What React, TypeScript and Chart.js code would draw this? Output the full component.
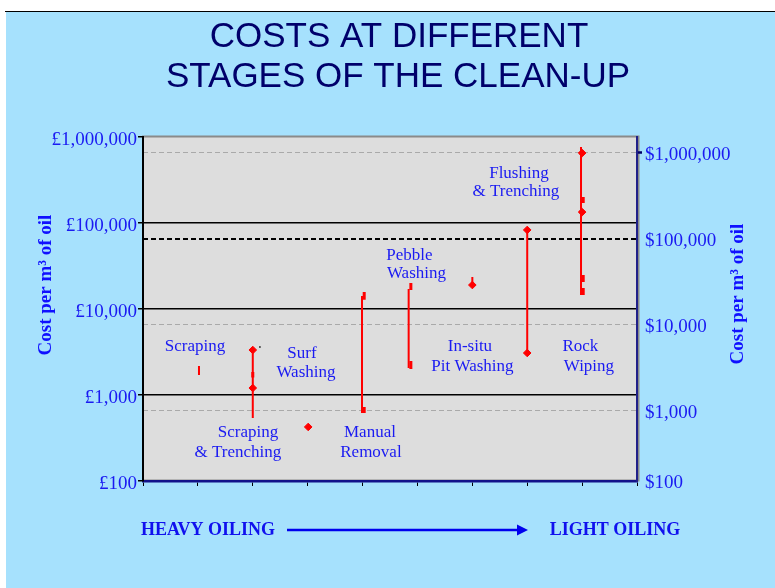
import { useEffect, useRef } from 'react';
import { Chart, registerables } from 'chart.js';

Chart.register(...registerables);

// ---- data ----
const stageNames = [
  'Scraping', 'Scraping & Trenching', 'Surf Washing', 'Manual Removal',
  'Pebble Washing', 'In-situ Pit Washing', 'Flushing & Trenching', 'Rock Wiping',
];
const stagePos = [1.02, 2, 3.01, 3.99, 4.84, 6, 7, 7.98];
const costLow = [1710, 540, 425, 618, 2060, 19000, 3080, 14550];
const costHigh = [2175, 3335, 425, 14160, 17100, 23550, 83000, 766000];

const diamondPos = [2, 2, 3.01, 6, 7, 7, 8, 8];
const diamondCost = [3335, 1206, 425, 19000, 83000, 3080, 651000, 134000];

const dashPos = [2, 4.03, 4.03, 4.88, 4.88, 8.02, 8.02, 8.02];
const dashLow = [1600, 12800, 618, 16650, 2005, 171000, 20600, 14550];
const dashHigh = [1850, 15800, 724, 20050, 2485, 200000, 24850, 17550];

const dotPos = [2.13];
const dotCost = [3614];

const noteText = [
  'Scraping', 'Scraping', '& Trenching', 'Surf', 'Washing', 'Manual', 'Removal',
  'Pebble', 'Washing', 'In-situ', 'Pit Washing', 'Flushing', '& Trenching', 'Rock', 'Wiping',
];
const notePos = [0.947, 1.913, 1.73, 2.896, 2.969, 4.135, 4.153, 4.854, 4.982, 5.956, 6.002, 6.849, 6.794, 7.969, 8.124];
const noteCost = [3614, 371, 217, 3076, 1803, 371, 217, 41330, 25530, 3614, 2116, 381000, 229300, 3614, 2116];

const xTickValues = [0, 1, 2, 3, 4, 5, 6, 7, 8, 9];
const leftTickValues = [100, 1000, 10000, 100000, 1000000];
const leftTickLabels = ['£100', '£1,000', '£10,000', '£100,000', '£1,000,000'];
const dollarRate = 1.53;
const rightTickValues = [153, 1000, 10000, 100000, 1000000];
const rightTickLabels = ['$100', '$1,000', '$10,000', '$100,000', '$1,000,000'];

const titleLines = ['COSTS AT DIFFERENT', 'STAGES OF THE CLEAN-UP'];
const axisTitle = 'Cost per m³ of oil';
const heavyLabel = 'HEAVY OILING';
const lightLabel = 'LIGHT OILING';

const SERIF = "'Liberation Serif', 'Times New Roman', serif";
const SANS = "'Liberation Sans', Arial, sans-serif";
const BLUE_TEXT = '#1a1af2';
const RED = '#ff0000';

function segments(pos: number[], lo: number[], hi: number[]) {
  const out: { x: number; y: number | null }[] = [];
  pos.forEach((p, i) => {
    out.push({ x: p, y: lo[i] }, { x: p, y: hi[i] }, { x: p, y: null });
  });
  return out;
}

const decorPlugin = {
  id: 'decor',
  beforeDraw(chart: any) {
    const { ctx, chartArea: a } = chart;
    ctx.save();
    ctx.fillStyle = '#ffffff';
    ctx.fillRect(0, 0, chart.width, chart.height);
    ctx.fillStyle = '#a6e1fd';
    ctx.fillRect(6, 12, chart.width - 6, chart.height - 12);
    ctx.strokeStyle = '#000000';
    ctx.lineWidth = 1;
    ctx.beginPath();
    ctx.moveTo(5, 11.5);
    ctx.lineTo(chart.width, 11.5);
    ctx.stroke();
    // plot area
    ctx.fillStyle = '#dddddd';
    ctx.fillRect(a.left, a.top, a.right - a.left, a.bottom - a.top);
    ctx.strokeStyle = '#8a8a8a';
    ctx.lineWidth = 2;
    ctx.strokeRect(a.left, a.top - 0.5, a.right - a.left + 1.5, a.bottom - a.top);
    ctx.restore();
  },
  afterDraw(chart: any) {
    const { ctx, chartArea: a, scales } = chart;
    ctx.save();
    // title
    ctx.fillStyle = '#00006b';
    ctx.font = `35px ${SANS}`;
    ctx.textAlign = 'center';
    ctx.textBaseline = 'alphabetic';
    ctx.fillText(titleLines[0], 399, 47);
    ctx.fillText(titleLines[1], 398, 87);

    // annotations
    ctx.fillStyle = BLUE_TEXT;
    ctx.font = `17px ${SERIF}`;
    ctx.textBaseline = 'middle';
    noteText.forEach((t, i) => {
      const x = scales.x.getPixelForValue(notePos[i]);
      const y = scales.y.getPixelForValue(noteCost[i]);
      ctx.fillText(t, x, y);
    });

    // axis titles
    ctx.fillStyle = '#1010ff';
    ctx.font = `bold 19px ${SERIF}`;
    const midY = (a.top + a.bottom) / 2;
    ctx.save();
    ctx.translate(46, midY - 24);
    ctx.rotate(-Math.PI / 2);
    ctx.fillText(axisTitle, 0, 0);
    ctx.restore();
    ctx.save();
    ctx.translate(738, midY - 15);
    ctx.rotate(-Math.PI / 2);
    ctx.fillText(axisTitle, 0, 0);
    ctx.restore();

    // bottom heavy -> light
    ctx.fillStyle = '#1010ee';
    ctx.font = `bold 18px ${SERIF}`;
    const by = a.bottom + 49;
    ctx.fillText(heavyLabel, 208, by);
    ctx.fillText(lightLabel, 615, by);
    ctx.strokeStyle = '#0000ee';
    ctx.lineWidth = 2.5;
    ctx.beginPath();
    ctx.moveTo(287, by);
    ctx.lineTo(520, by);
    ctx.stroke();
    ctx.fillStyle = '#0000ee';
    ctx.beginPath();
    ctx.moveTo(517, by - 5.5);
    ctx.lineTo(528, by);
    ctx.lineTo(517, by + 5.5);
    ctx.closePath();
    ctx.fill();
    ctx.restore();
  },
};

export default function App() {
  const ref = useRef<HTMLCanvasElement>(null);
  useEffect(() => {
    document.body.style.margin = '0';
    document.body.style.background = '#ffffff';
    const canvas = ref.current!;
    const chart = new Chart(canvas, {
      type: 'line',
      data: {
        datasets: [
          {
            label: stageNames.join(', '),
            data: segments(stagePos, costLow, costHigh),
            borderColor: RED,
            borderWidth: 2,
            pointRadius: 0,
            spanGaps: false,
            yAxisID: 'y',
          },
          {
            label: 'ticks',
            data: segments(dashPos, dashLow, dashHigh),
            borderColor: RED,
            borderWidth: 3,
            pointRadius: 0,
            spanGaps: false,
            yAxisID: 'y',
          },
          {
            label: 'points',
            data: diamondPos.map((p, i) => ({ x: p, y: diamondCost[i] })),
            showLine: false,
            pointStyle: 'rectRot',
            pointRadius: 3.8,
            pointBackgroundColor: RED,
            pointBorderColor: RED,
            pointBorderWidth: 1,
            yAxisID: 'y',
          },
          {
            label: 'dot',
            data: dotPos.map((p, i) => ({ x: p, y: dotCost[i] })),
            showLine: false,
            pointStyle: 'rect',
            pointRadius: 1,
            pointBackgroundColor: '#000',
            pointBorderWidth: 0,
            yAxisID: 'y',
          },
        ],
      },
      options: {
        responsive: false,
        animation: false,
        events: [],
        layout: { padding: { top: 137, left: 0, right: 0, bottom: 0 } },
        plugins: {
          legend: { display: false },
          tooltip: { enabled: false },
          title: { display: false },
        },
        scales: {
          x: {
            type: 'linear',
            min: 0,
            max: 9,
            afterBuildTicks: (s: any) => {
              s.ticks = xTickValues.map((v) => ({ value: v }));
            },
            afterFit: (s: any) => {
              s.height = 107;
            },
            ticks: { display: false },
            grid: { drawOnChartArea: false, tickLength: 5, tickColor: '#000', tickWidth: 1 },
            border: { color: '#12128a', width: 2.5 },
          },
          y: {
            type: 'logarithmic',
            position: 'left',
            min: 100,
            max: 1000000,
            afterBuildTicks: (s: any) => {
              s.ticks = leftTickValues.map((v) => ({ value: v }));
            },
            afterFit: (s: any) => {
              s.width = 143;
            },
            ticks: {
              autoSkip: false,
              padding: 1,
              labelOffset: 3,
              color: BLUE_TEXT,
              font: { family: SERIF, size: 19 },
              callback: (v: any) => leftTickLabels[leftTickValues.indexOf(Number(v))],
            },
            grid: {
              color: (c: any) =>
                c.tick && (c.tick.value === 100 || c.tick.value === 1000000) ? 'rgba(0,0,0,0)' : '#000',
              lineWidth: 1.5,
              tickLength: 5,
              tickColor: '#000',
              tickWidth: 1.5,
            },
            border: { color: '#000', width: 2 },
          },
          y2: {
            type: 'logarithmic',
            position: 'right',
            min: 100 * dollarRate,
            max: 1000000 * dollarRate,
            afterBuildTicks: (s: any) => {
              s.ticks = rightTickValues.map((v) => ({ value: v }));
            },
            afterFit: (s: any) => {
              s.width = 138;
            },
            ticks: {
              autoSkip: false,
              padding: 3,
              labelOffset: 2,
              color: BLUE_TEXT,
              font: { family: SERIF, size: 19 },
              callback: (v: any) => rightTickLabels[rightTickValues.indexOf(Number(v))],
            },
            grid: {
              color: (c: any) => {
                const v = c.tick && c.tick.value;
                if (v === 100000) return '#000';
                if (v === rightTickValues[0]) return 'rgba(0,0,0,0)';
                return '#a9a9a9';
              },
              lineWidth: (c: any) => (c.tick && c.tick.value === 100000 ? 2 : 1),
              tickLength: 5,
              tickColor: (c: any) => (c.tick && c.tick.value === 1000000 ? '#000066' : 'rgba(0,0,0,0)'),
              tickWidth: 2.5,
            },
            border: { color: '#20208a', width: 2, dash: [5, 3] },
          },
        },
      },
      plugins: [decorPlugin],
    } as any);
    return () => chart.destroy();
  }, []);
  return (
    <canvas
      ref={ref}
      width={775}
      height={588}
      style={{ display: 'block', width: 775, height: 588 }}
    />
  );
}
